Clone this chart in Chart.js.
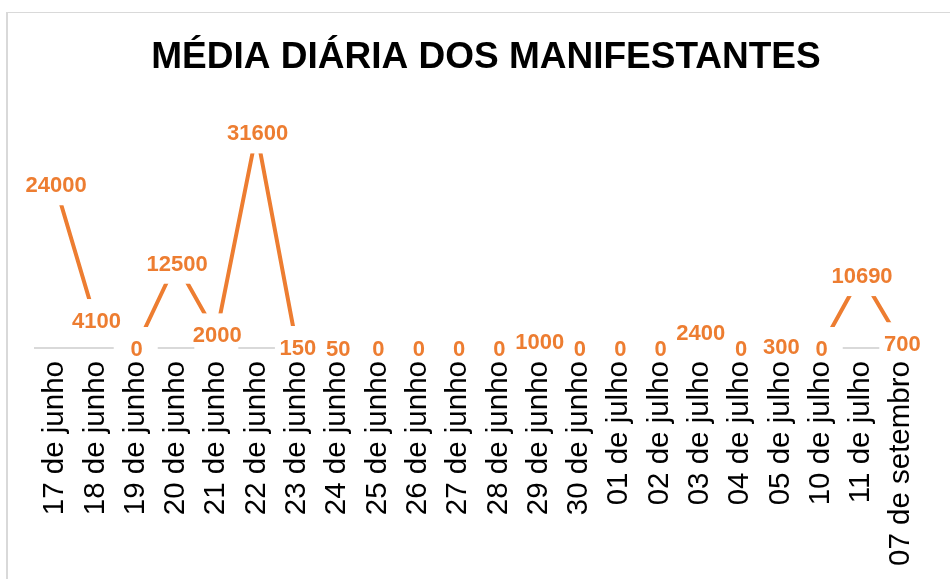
<!DOCTYPE html>
<html lang="pt">
<head>
  <meta charset="UTF-8" />
  <title>Média diária dos manifestantes</title>
  <script src="https://cdn.jsdelivr.net/npm/chart.js@4"></script>
  <style>
    html, body { margin: 0; padding: 0; background: #fff; }
    #wrap { position: relative; width: 950px; height: 579px; }
    #frame {
      position: absolute; left: 6px; top: 12px; right: 0; bottom: 0;
      border-left: 2px solid #d9d9d9; border-top: 1px solid #d9d9d9;
      pointer-events: none;
    }
  </style>
</head>
<body>
  <div id="wrap">
    <canvas id="chart" width="950" height="579"></canvas>
    <div id="frame"></div>
  </div>

  <script>
    const categories = [
      '17 de junho', '18 de junho', '19 de junho', '20 de junho', '21 de junho',
      '22 de junho', '23 de junho', '24 de junho', '25 de junho', '26 de junho',
      '27 de junho', '28 de junho', '29 de junho', '30 de junho', '01 de julho',
      '02 de julho', '03 de julho', '04 de julho', '05 de julho', '10 de julho',
      '11 de julho', '07 de setembro'
    ];
    const manifestantes = [
      24000, 4100, 0, 12500, 2000, 31600, 150, 50, 0, 0, 0,
      0, 1000, 0, 0, 0, 2400, 0, 300, 0, 10690, 700
    ];

    const orange = '#ED7D31';

    // labels sit centred on the points, on a white box that hides the line
    const pointLabels = {
      id: 'pointLabels',
      afterDatasetsDraw(chart) {
        const ctx = chart.ctx;
        const meta = chart.getDatasetMeta(0);
        const bottom = chart.chartArea.bottom + 8;
        ctx.save();
        ctx.fillStyle = '#fff';
        meta.data.forEach(pt => {
          const top = pt.y - 21;
          const h = Math.min(42, bottom - top);
          ctx.fillRect(pt.x - 22, top, 44, h);
        });
        ctx.font = 'bold 22px "Liberation Sans", Arial, sans-serif';
        ctx.fillStyle = orange;
        ctx.textAlign = 'center';
        ctx.textBaseline = 'middle';
        meta.data.forEach((pt, i) => {
          ctx.fillText(String(manifestantes[i]), pt.x + 1, pt.y + 2);
        });
        ctx.restore();
      }
    };

    new Chart(document.getElementById('chart'), {
      type: 'line',
      data: {
        labels: categories,
        datasets: [{
          label: 'Manifestantes',
          data: manifestantes,
          borderColor: orange,
          borderWidth: 4,
          pointRadius: 0,
          tension: 0,
          fill: false
        }]
      },
      options: {
        responsive: false,
        animation: false,
        layout: { padding: { left: 35, right: 13, top: 0, bottom: 0 } },
        plugins: {
          legend: { display: false },
          tooltip: { enabled: false },
          title: {
            display: true,
            text: 'MÉDIA DIÁRIA DOS MANIFESTANTES',
            color: '#000',
            font: { family: '"Liberation Sans", Arial, sans-serif', size: 37, weight: 'bold' },
            padding: { top: 36, bottom: 22 }
          }
        },
        scales: {
          x: {
            offset: true,
            grid: { display: false, drawTicks: false },
            border: { display: true, color: '#d9d9d9', width: 2 },
            ticks: {
              autoSkip: false,
              minRotation: 90,
              maxRotation: 90,
              padding: 13,
              color: '#000',
              font: { family: '"Liberation Sans", Arial, sans-serif', size: 29.5 }
            }
          },
          y: {
            display: false,
            min: 0,
            max: 36000
          }
        }
      },
      plugins: [pointLabels]
    });
  </script>
</body>
</html>
